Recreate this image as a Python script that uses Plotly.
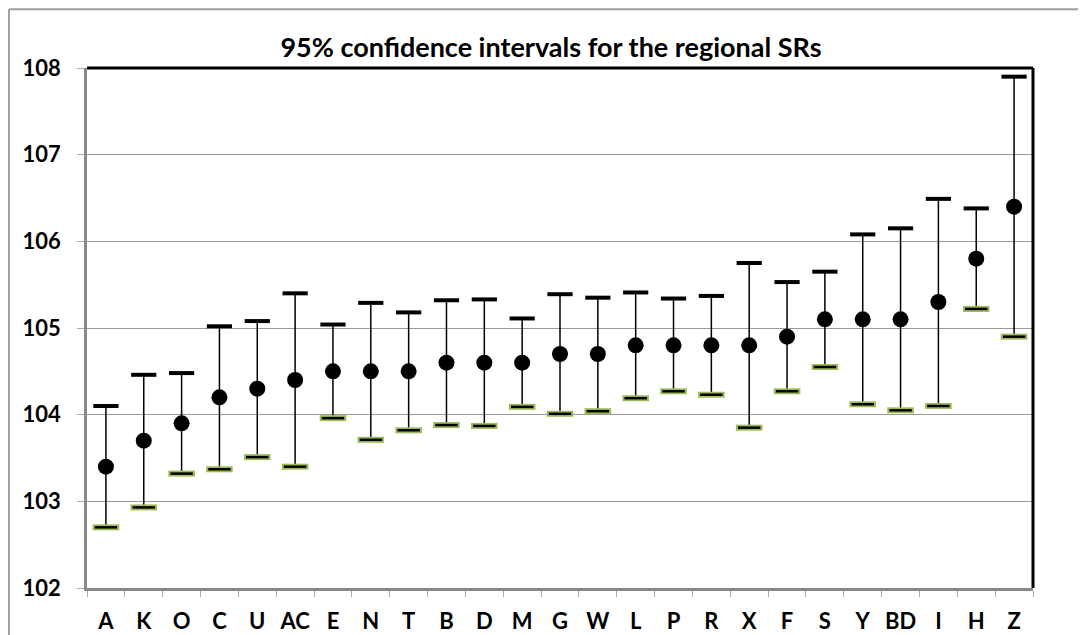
import plotly.graph_objects as go

regions = ["A", "K", "O", "C", "U", "AC", "E", "N", "T", "B", "D", "M", "G",
           "W", "L", "P", "R", "X", "F", "S", "Y", "BD", "I", "H", "Z"]
sr = [103.4, 103.7, 103.9, 104.2, 104.3, 104.4, 104.5, 104.5, 104.5, 104.6, 104.6, 104.6, 104.7,
      104.7, 104.8, 104.8, 104.8, 104.8, 104.9, 105.1, 105.1, 105.1, 105.3, 105.8, 106.4]
upper = [104.1, 104.46, 104.48, 105.02, 105.08, 105.4, 105.04, 105.29, 105.18, 105.32, 105.33, 105.11, 105.39,
         105.35, 105.41, 105.34, 105.37, 105.75, 105.53, 105.65, 106.08, 106.15, 106.49, 106.38, 107.9]
lower = [102.7, 102.93, 103.32, 103.37, 103.51, 103.4, 103.96, 103.71, 103.82, 103.88, 103.87, 104.09, 104.01,
         104.04, 104.19, 104.27, 104.23, 103.85, 104.27, 104.55, 104.12, 104.05, 104.1, 105.22, 104.9]
yticks = [102, 103, 104, 105, 106, 107, 108]

err_up = [u - m for u, m in zip(upper, sr)]
err_down = [m - l for m, l in zip(sr, lower)]

font = "Lato, 'Open Sans', sans-serif"

fig = go.Figure()

# whiskers (caps drawn separately as markers)
fig.add_trace(go.Scatter(
    x=regions, y=sr, mode="markers",
    marker=dict(size=16, color="black"),
    error_y=dict(type="data", symmetric=False, array=err_up, arrayminus=err_down,
                 color="black", thickness=1.5, width=0),
    showlegend=False))

# upper caps
fig.add_trace(go.Scatter(
    x=regions, y=upper, mode="markers",
    marker=dict(symbol="line-ew", size=18, line=dict(color="black", width=4)),
    showlegend=False))

# lower caps: green outline with black core
fig.add_trace(go.Scatter(
    x=regions, y=lower, mode="markers",
    marker=dict(symbol="line-ew", size=19, line=dict(color="#9BBB59", width=6)),
    showlegend=False))
fig.add_trace(go.Scatter(
    x=regions, y=lower, mode="markers",
    marker=dict(symbol="line-ew", size=16, line=dict(color="black", width=2.5)),
    showlegend=False))

# page body has an offset, margins compensate for it
fig.update_layout(
    width=1086, height=635,
    margin=dict(l=79, r=61, t=60, b=55),
    paper_bgcolor="white", plot_bgcolor="white",
    title=dict(text="<b>95% confidence intervals for the regional SRs</b>",
               x=0.5, xanchor="center", y=0.937, yanchor="middle",
               font=dict(family=font, size=27, color="black")),
    font=dict(family=font, color="black"),
    shapes=[
        # outer chart frame (only left/top visible)
        dict(type="line", xref="paper", yref="paper", x0=-0.0825, x1=-0.0825, y0=-0.3, y1=1.113,
             line=dict(color="#A0A0A0", width=2)),
        dict(type="line", xref="paper", yref="paper", x0=-0.0825, x1=1.2, y0=1.113, y1=1.113,
             line=dict(color="#A0A0A0", width=2)),
        # plot area border on top and right
        dict(type="line", xref="paper", yref="paper", x0=0, x1=1, y0=1, y1=1,
             line=dict(color="black", width=3)),
        dict(type="line", xref="paper", yref="paper", x0=1, x1=1, y0=0, y1=1,
             line=dict(color="black", width=3)),
    ],
)

fig.update_xaxes(
    type="category", range=[-0.5, len(regions) - 0.5],
    tickvals=regions, ticktext=["<b>%s</b>" % r for r in regions],
    tickangle=0, automargin=False,
    showline=True, linecolor="#888888", linewidth=2.5,
    ticks="outside", tickson="boundaries", ticklen=6, tickcolor="#AAAAAA", tickwidth=1,
    showgrid=False, zeroline=False,
    tickfont=dict(family=font, size=22, color="black"),
    ticklabelstandoff=12,
)
fig.update_yaxes(
    range=[102, 108], automargin=False,
    tickvals=yticks, ticktext=["<b>%d</b>" % v for v in yticks],
    showline=True, linecolor="#888888", linewidth=2.5,
    ticks="outside", ticklen=7, tickcolor="#AAAAAA", tickwidth=1,
    showgrid=True, gridcolor="#999999", gridwidth=1,
    zeroline=False,
    tickfont=dict(family=font, size=22, color="black"),
    ticklabelstandoff=12,
)

fig.write_html("out.html")
